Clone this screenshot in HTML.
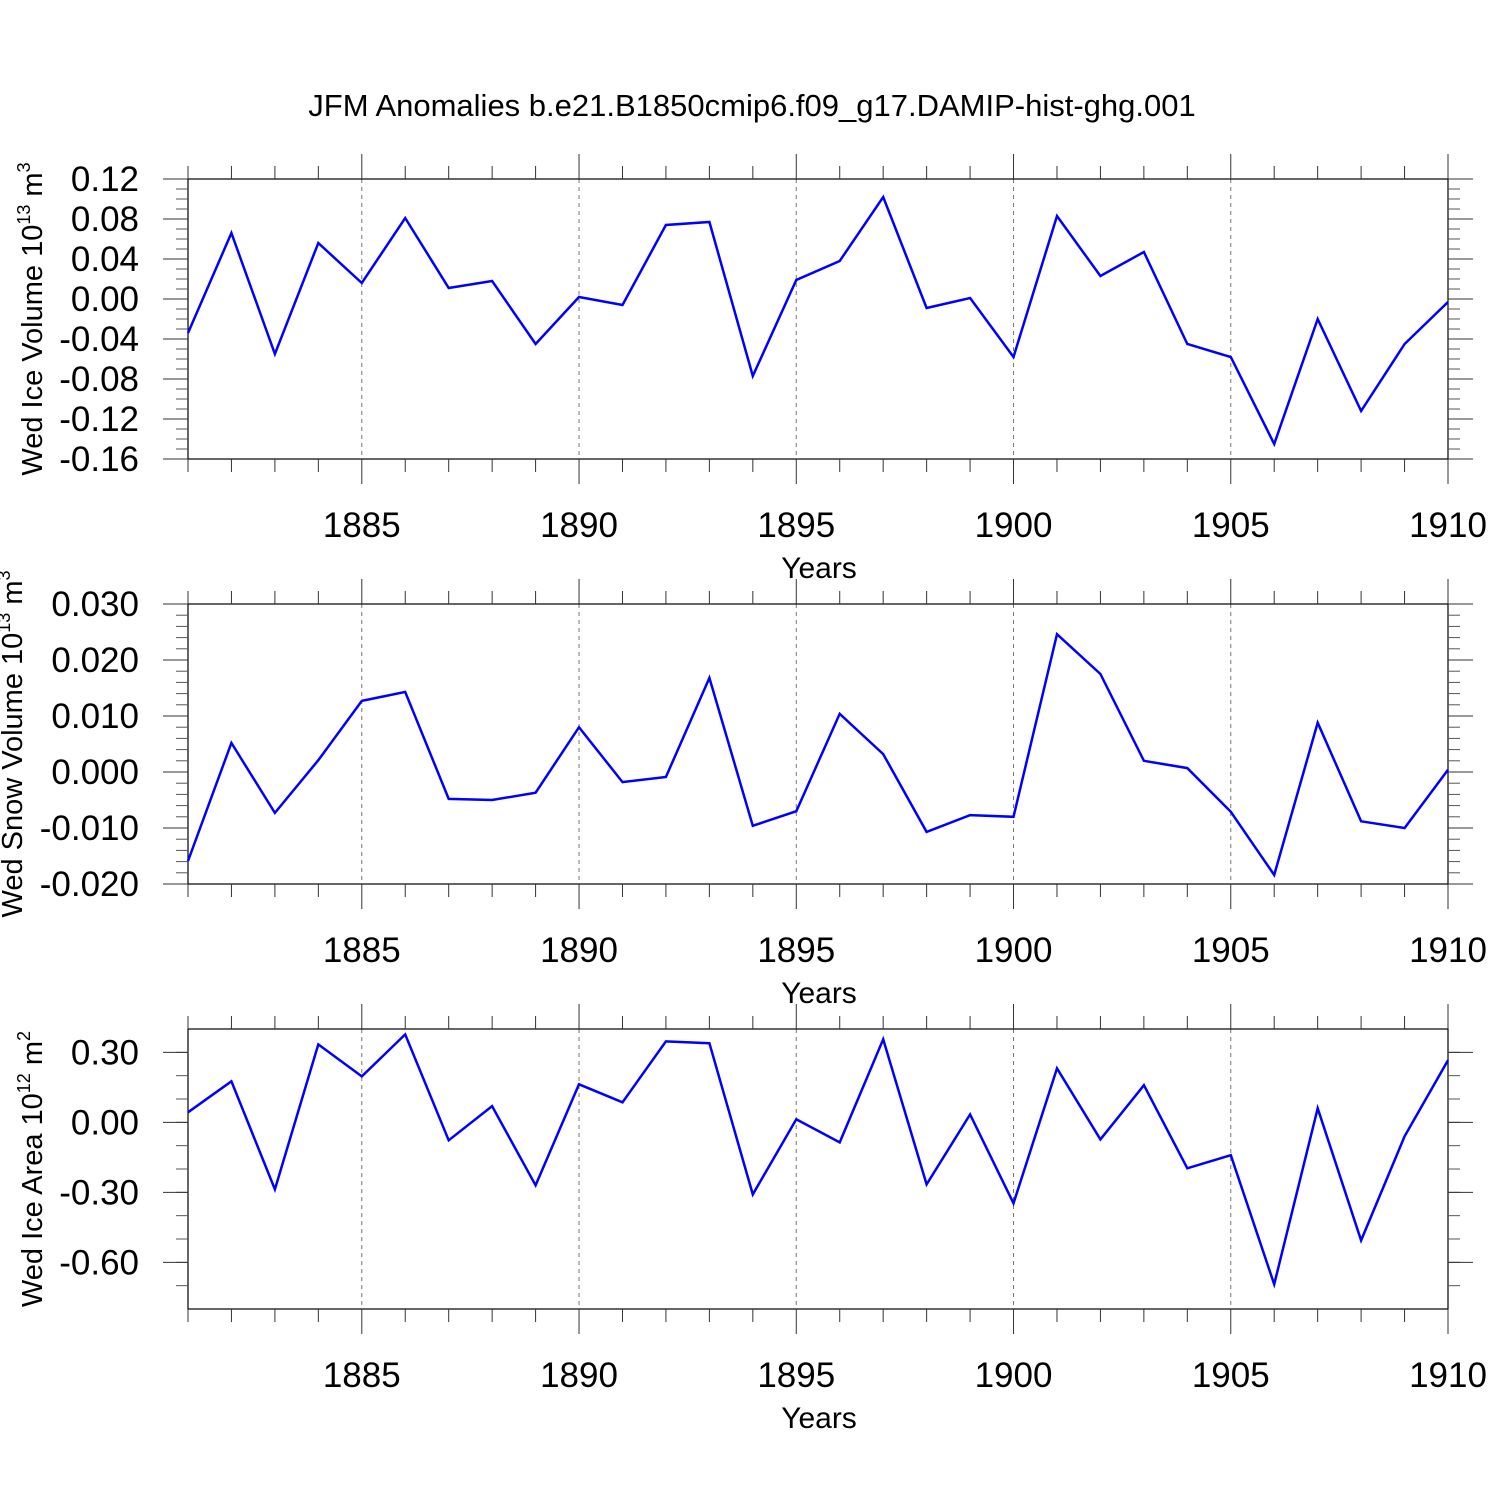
<!DOCTYPE html>
<html><head><meta charset="utf-8"><style>
body{margin:0;background:#fff}
svg{display:block;font-family:"Liberation Sans",sans-serif}
</style></head><body>
<svg id="c" width="1500" height="1500" viewBox="0 0 1500 1500">
<text x="752" y="116" font-size="31" text-anchor="middle">JFM Anomalies b.e21.B1850cmip6.f09_g17.DAMIP-hist-ghg.001</text>
</svg>
<script>
const years=[];for(let y=1881;y<=1910;y++)years.push(y);
const xTickLabels=[1885,1890,1895,1900,1905,1910];
const iceVolume=[-0.034,0.066,-0.055,0.056,0.016,0.081,0.011,0.018,-0.045,0.002,-0.006,0.074,0.077,-0.077,0.019,0.038,0.102,-0.009,0.001,-0.058,0.083,0.023,0.047,-0.045,-0.058,-0.145,-0.020,-0.112,-0.045,-0.003];
const snowVolume=[-0.0159,0.0052,-0.0073,0.0021,0.0127,0.0143,-0.0048,-0.0050,-0.0037,0.0080,-0.0018,-0.0009,0.0168,-0.0096,-0.0070,0.0104,0.0032,-0.0107,-0.0077,-0.0080,0.0246,0.0175,0.0020,0.0007,-0.0071,-0.0184,0.0088,-0.0088,-0.0100,0.0004];
const iceArea=[0.043,0.176,-0.287,0.334,0.197,0.377,-0.077,0.069,-0.270,0.163,0.086,0.347,0.339,-0.309,0.013,-0.086,0.356,-0.266,0.034,-0.347,0.231,-0.073,0.159,-0.197,-0.141,-0.694,0.060,-0.506,-0.060,0.266];
const iceVolTicks=[0.12,0.08,0.04,0.00,-0.04,-0.08,-0.12,-0.16];
const snowTicks=[0.030,0.020,0.010,0.000,-0.010,-0.020];
const areaTicks=[0.30,0.00,-0.30,-0.60];
const NS="http://www.w3.org/2000/svg";
const svg=document.getElementById('c');
function el(t,a,txt){const e=document.createElementNS(NS,t);for(const k in a)e.setAttribute(k,a[k]);if(txt!==undefined)e.textContent=txt;svg.appendChild(e);return e;}
const X0=188,X1=1448;
function xs(y){return X0+(y-1881)*(X1-X0)/29;}
function panel(id,top,vmin,vmax,data,ticks,dec,minorStep,title,sup,unit,skipEnds,titleX){
  const bot=top+280;
  const ys=v=>top+(vmax-v)*(bot-top)/(vmax-vmin);
  xTickLabels.forEach(yr=>{if(yr<1910){const g=el('line',{x1:xs(yr),x2:xs(yr),y1:top,y2:bot,stroke:'#777','stroke-width':1,'stroke-dasharray':'4,4'});
  
  }});
  const fr=el('rect',{x:X0,y:top,width:X1-X0,height:bot-top,fill:'none',stroke:'#000','stroke-width':1.2});
  
  
  years.forEach(yr=>{const L=(yr%5===0)?25:13;const x=xs(yr);
    el('line',{x1:x,x2:x,y1:top-L,y2:top,stroke:'#333','stroke-width':1});
    el('line',{x1:x,x2:x,y1:bot,y2:bot+L,stroke:'#333','stroke-width':1});});
  xTickLabels.forEach(yr=>{const t=el('text',{x:xs(yr),y:bot+78,'font-size':35,'text-anchor':'middle'},String(yr));
    
    });
  const xt=el('text',{x:819,y:bot+119,'font-size':30,'text-anchor':'middle'},'Years');
  
  
  const n=Math.round((vmax-vmin)/minorStep);
  for(let i=0;i<=n;i++){const v=vmin+i*minorStep;
    if(skipEnds&&(i===0||i===n))continue;
    const y=ys(v);
    el('line',{x1:X0-12,x2:X0,y1:y,y2:y,stroke:'#555','stroke-width':1});
    el('line',{x1:X1,x2:X1+12,y1:y,y2:y,stroke:'#555','stroke-width':1});}
  ticks.forEach(v=>{const y=ys(v);
    el('line',{x1:X0-25,x2:X0,y1:y,y2:y,stroke:'#333','stroke-width':1});
    el('line',{x1:X1,x2:X1+25,y1:y,y2:y,stroke:'#333','stroke-width':1});
    const t=el('text',{x:X0-49,y:y+12,'font-size':35,'text-anchor':'end'},v.toFixed(dec));
    
    });
  const cy=top+140;
  const yt=el('text',{x:0,y:0,'font-size':29,'text-anchor':'middle',transform:`translate(${titleX},${cy}) rotate(-90)`});
  yt.innerHTML=`${title} 10<tspan font-size="18" dy="-12">${sup}</tspan><tspan dy="12"> m</tspan><tspan font-size="18" dy="-12">${unit}</tspan>`;
  
  
  const pts=data.map((v,i)=>xs(years[i]).toFixed(1)+','+ys(v).toFixed(1)).join(' ');
  const pl=el('polyline',{points:pts,fill:'none',stroke:'#0000ff','stroke-width':2.5,'stroke-linejoin':'miter'});
  
  
}
panel('ice-volume',179,-0.16,0.12,iceVolume,iceVolTicks,2,0.01,'Wed Ice Volume','13','3',false,42);
panel('snow-volume',604,-0.020,0.030,snowVolume,snowTicks,3,0.002,'Wed Snow Volume','13','3',false,22);
panel('ice-area',1029,-0.80,0.40,iceArea,areaTicks,2,0.1,'Wed Ice Area','12','2',true,42);
</script>
</body></html>
